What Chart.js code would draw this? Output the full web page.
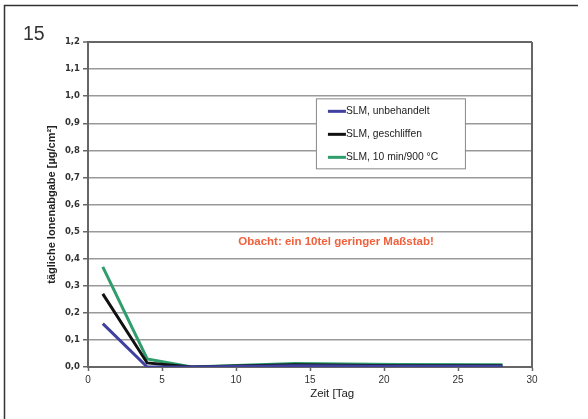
<!DOCTYPE html>
<html>
<head>
<meta charset="utf-8">
<script src="https://cdn.jsdelivr.net/npm/chart.js@4.4.0/dist/chart.umd.min.js"></script>
<style>
  html, body { margin: 0; padding: 0; background: #fff; }
  #wrap { width: 588px; height: 419px; position: relative; }
</style>
</head>
<body>
<div id="wrap"><canvas id="chart"></canvas></div>
<script>
const days = [1, 4, 7, 14, 21, 28];
const unbehandelt = [0.16, 0.0, 0.0, 0.005, 0.003, 0.003];
const geschliffen = [0.27, 0.015, 0.0, 0.008, 0.005, 0.005];
const geglueht = [0.37, 0.03, 0.0, 0.013, 0.009, 0.008];

const seriesLabels = ['SLM, unbehandelt', 'SLM, geschliffen', 'SLM, 10 min/900 °C'];
const seriesColors = ['#40409e', '#111111', '#2f9d6c'];

const figureNumber = '15';
const noteText = 'Obacht: ein 10tel geringer Maßstab!';
const xTitle = 'Zeit [Tag';

const FONT = '"Liberation Sans", Arial, sans-serif';

const toPoints = (vals) => days.map((d, i) => ({ x: d, y: vals[i] }));

const extras = {
    id: 'extras',
    beforeDraw(chart) {
        const ctx = chart.ctx;
        ctx.save();
        // outer frame (left + top)
        ctx.strokeStyle = '#333';
        ctx.lineWidth = 1.5;
        ctx.beginPath();
        ctx.moveTo(4.5, 419);
        ctx.lineTo(4.5, 5.5);
        ctx.lineTo(578, 5.5);
        ctx.stroke();
        // figure number
        ctx.fillStyle = '#333';
        ctx.font = '300 19.5px ' + FONT;
        ctx.textBaseline = 'alphabetic';
        ctx.fillText(figureNumber, 23, 39.5);
        ctx.restore();
    },
    afterDatasetsDraw(chart) {
        const ctx = chart.ctx;
        const { left, right, top, bottom } = chart.chartArea;
        const xs = chart.scales.x, ys = chart.scales.y;
        ctx.save();
        // plot frame right side
        ctx.strokeStyle = '#666';
        ctx.lineWidth = 2;
        ctx.beginPath();
        ctx.moveTo(right, top);
        ctx.lineTo(right, bottom);
        ctx.stroke();

        // x axis title (sits right of centre in the original)
        ctx.fillStyle = '#222';
        ctx.font = '11.5px ' + FONT;
        ctx.textAlign = 'center';
        ctx.textBaseline = 'middle';
        ctx.fillText(xTitle, xs.getPixelForValue(16.5), 394);

        // note text
        ctx.fillStyle = '#f0603c';
        ctx.font = 'bold 11.5px ' + FONT;
        ctx.fillText(noteText, xs.getPixelForValue(16.76), ys.getPixelForValue(0.462));

        // legend box
        const lx = xs.getPixelForValue(15.4), ly = ys.getPixelForValue(0.992);
        const lw = 149, lh = 70;
        ctx.fillStyle = '#fff';
        ctx.fillRect(lx, ly, lw, lh);
        ctx.strokeStyle = '#888';
        ctx.lineWidth = 1;
        ctx.strokeRect(lx + 0.5, ly + 0.5, lw, lh);
        ctx.textAlign = 'left';
        ctx.font = '10.3px ' + FONT;
        chart.data.datasets.forEach((ds, i) => {
            const yy = ly + 13 + i * 23;
            ctx.strokeStyle = ds.borderColor;
            ctx.lineWidth = 3;
            ctx.beginPath();
            ctx.moveTo(lx + 12, yy);
            ctx.lineTo(lx + 30, yy);
            ctx.stroke();
            ctx.fillStyle = '#222';
            ctx.fillText(ds.label, lx + 30, yy);
        });
        ctx.restore();
    }
};

new Chart(document.getElementById('chart'), {
    type: 'line',
    data: {
        datasets: [unbehandelt, geschliffen, geglueht].map((vals, i) => ({
            label: seriesLabels[i],
            data: toPoints(vals),
            borderColor: seriesColors[i],
            backgroundColor: seriesColors[i],
            borderWidth: 3,
            pointRadius: 0,
            tension: 0,
            fill: false
        }))
    },
    options: {
        responsive: true,
        maintainAspectRatio: false,
        animation: false,
        layout: { padding: { left: 0, top: 42, right: 56, bottom: 0 } },
        plugins: {
            legend: { display: false },
            tooltip: { enabled: false }
        },
        scales: {
            x: {
                type: 'linear',
                min: 0,
                max: 30,
                ticks: {
                    stepSize: 5,
                    color: '#333',
                    padding: 3,
                    font: { family: FONT, size: 10 }
                },
                grid: { drawOnChartArea: false, drawTicks: true, tickLength: 4, tickColor: '#666', tickWidth: 1.5 },
                border: { color: '#666', width: 2 },
                afterFit(scale) { scale.height = 52; }
            },
            y: {
                min: 0,
                max: 1.2,
                ticks: {
                    stepSize: 0.1,
                    color: '#333',
                    padding: 3,
                    font: { family: '"DejaVu Sans", sans-serif', size: 8.5, weight: 'bold' },
                    callback: (v) => v.toFixed(1).replace('.', ',')
                },
                grid: {
                    color: (c) => c.tick && Math.abs(c.tick.value - 1.2) < 1e-6 ? '#666' : '#999',
                    lineWidth: (c) => c.tick && Math.abs(c.tick.value - 1.2) < 1e-6 ? 2 : 1.5,
                    drawTicks: true,
                    tickLength: 5,
                    tickColor: '#666',
                    tickWidth: 1.5
                },
                border: { color: '#666', width: 2 },
                title: {
                    display: true,
                    text: 'tägliche Ionenabgabe [µg/cm²]',
                    color: '#222',
                    font: { family: FONT, size: 11, weight: 'bold' },
                    padding: { top: 45, bottom: 0 }
                },
                afterFit(scale) { scale.width = 88; }
            }
        }
    },
    plugins: [extras]
});
</script>
</body>
</html>
